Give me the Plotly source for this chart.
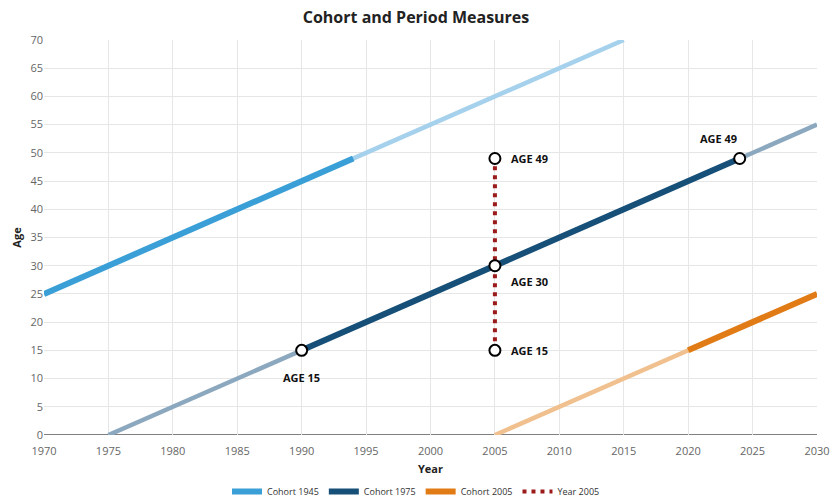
import plotly.graph_objects as go

# Data
c1945_full_x = [1970, 2015]
c1945_full_y = [25, 70]
c1945_fert_x = [1970, 1994]
c1945_fert_y = [25, 49]

c1975_full_x = [1975, 2030]
c1975_full_y = [0, 55]
c1975_fert_x = [1990, 2024]
c1975_fert_y = [15, 49]

c2005_full_x = [2005, 2030]
c2005_full_y = [0, 25]
c2005_fert_x = [2020, 2030]
c2005_fert_y = [15, 25]

period_x = [2005, 2005]
period_y = [15, 49]

marker_x = [1990, 2005, 2005, 2005, 2024]
marker_y = [15, 15, 30, 49, 49]

label_x = [1990, 2005, 2005, 2005, 2024]
label_y = [15, 15, 30, 49, 49]
label_text = ["AGE 15", "AGE 15", "AGE 30", "AGE 49", "AGE 49"]

FONT = "Open Sans"

fig = go.Figure()

def seg(x, y, color, width, name=None, show=False, dash=None):
    fig.add_trace(go.Scatter(
        x=x, y=y, mode="lines", name=name, showlegend=show,
        line=dict(color=color, width=width, dash=dash),
        hoverinfo="skip", legendgroup=name))

seg(c1945_full_x, c1945_full_y, "#a5d1ec", 4.5)
seg(c1945_fert_x, c1945_fert_y, "#3a9fd6", 6, "Cohort 1945", True)
seg(c1975_full_x, c1975_full_y, "#8ba8bf", 4.5)
seg(c1975_fert_x, c1975_fert_y, "#164f78", 6, "Cohort 1975", True)
seg(c2005_full_x, c2005_full_y, "#f0c08f", 4.5)
seg(c2005_fert_x, c2005_fert_y, "#e07b16", 6, "Cohort 2005", True)
seg(period_x, period_y, "#9b1b1b", 4, "Year 2005", True, dash="4px,5px")

fig.add_trace(go.Scatter(
    x=marker_x, y=marker_y, mode="markers", showlegend=False,
    marker=dict(size=11, color="white", line=dict(color="black", width=2)),
    hoverinfo="skip"))

# Annotations: (xshift, yshift, xanchor)
placements = [(0, -27, "center"), (14, 0, "left"), (14, -16, "left"),
              (14, 0, "left"), (-21, 20, "center")]
for x, y, t, (xs, ys, xa) in zip(label_x, label_y, label_text, placements):
    fig.add_annotation(x=x, y=y, text="<b>" + t + "</b>", showarrow=False,
                       xshift=xs, yshift=ys, xanchor=xa, yanchor="middle",
                       font=dict(family=FONT, size=11, color="#111"))

fig.update_layout(
    width=832, height=500,
    margin=dict(l=44, r=15, t=40, b=65),
    paper_bgcolor="white", plot_bgcolor="white",
    font=dict(family=FONT, color="#555"),
    title=dict(text="<b>Cohort and Period Measures</b>", x=0.5, xanchor="center",
               y=0.965, yanchor="middle",
               font=dict(family=FONT, size=16, color="#222")),
    xaxis=dict(range=[1970, 2030], dtick=5, tick0=1970,
               showgrid=True, gridcolor="#e6e6e6", gridwidth=1,
               zeroline=False, showline=False, automargin=False,
               tickfont=dict(size=11, color="#666"), ticklabelstandoff=8,
               title=dict(text="<b>Year</b>", font=dict(size=11, color="#222"), standoff=8),
               ticks="", fixedrange=True),
    yaxis=dict(range=[0, 70], dtick=5, tick0=0,
               showgrid=True, gridcolor="#e6e6e6", gridwidth=1,
               zeroline=False, showline=False, automargin=False,
               tickfont=dict(size=11, color="#666"),
               title=dict(text="<b>Age</b>", font=dict(size=11, color="#222"), standoff=6),
               ticks="", fixedrange=True),
    legend=dict(orientation="h", x=0.5, xanchor="center", xref="container",
                y=0.046, yanchor="top", yref="container",
                font=dict(size=9, color="#333"),
                itemwidth=30, tracegroupgap=0),
    shapes=[dict(type="line", xref="paper", yref="y", x0=0, x1=1, y0=0, y1=0,
                 line=dict(color="#555", width=1.5), layer="below")],
)

fig.write_html("out.html")
